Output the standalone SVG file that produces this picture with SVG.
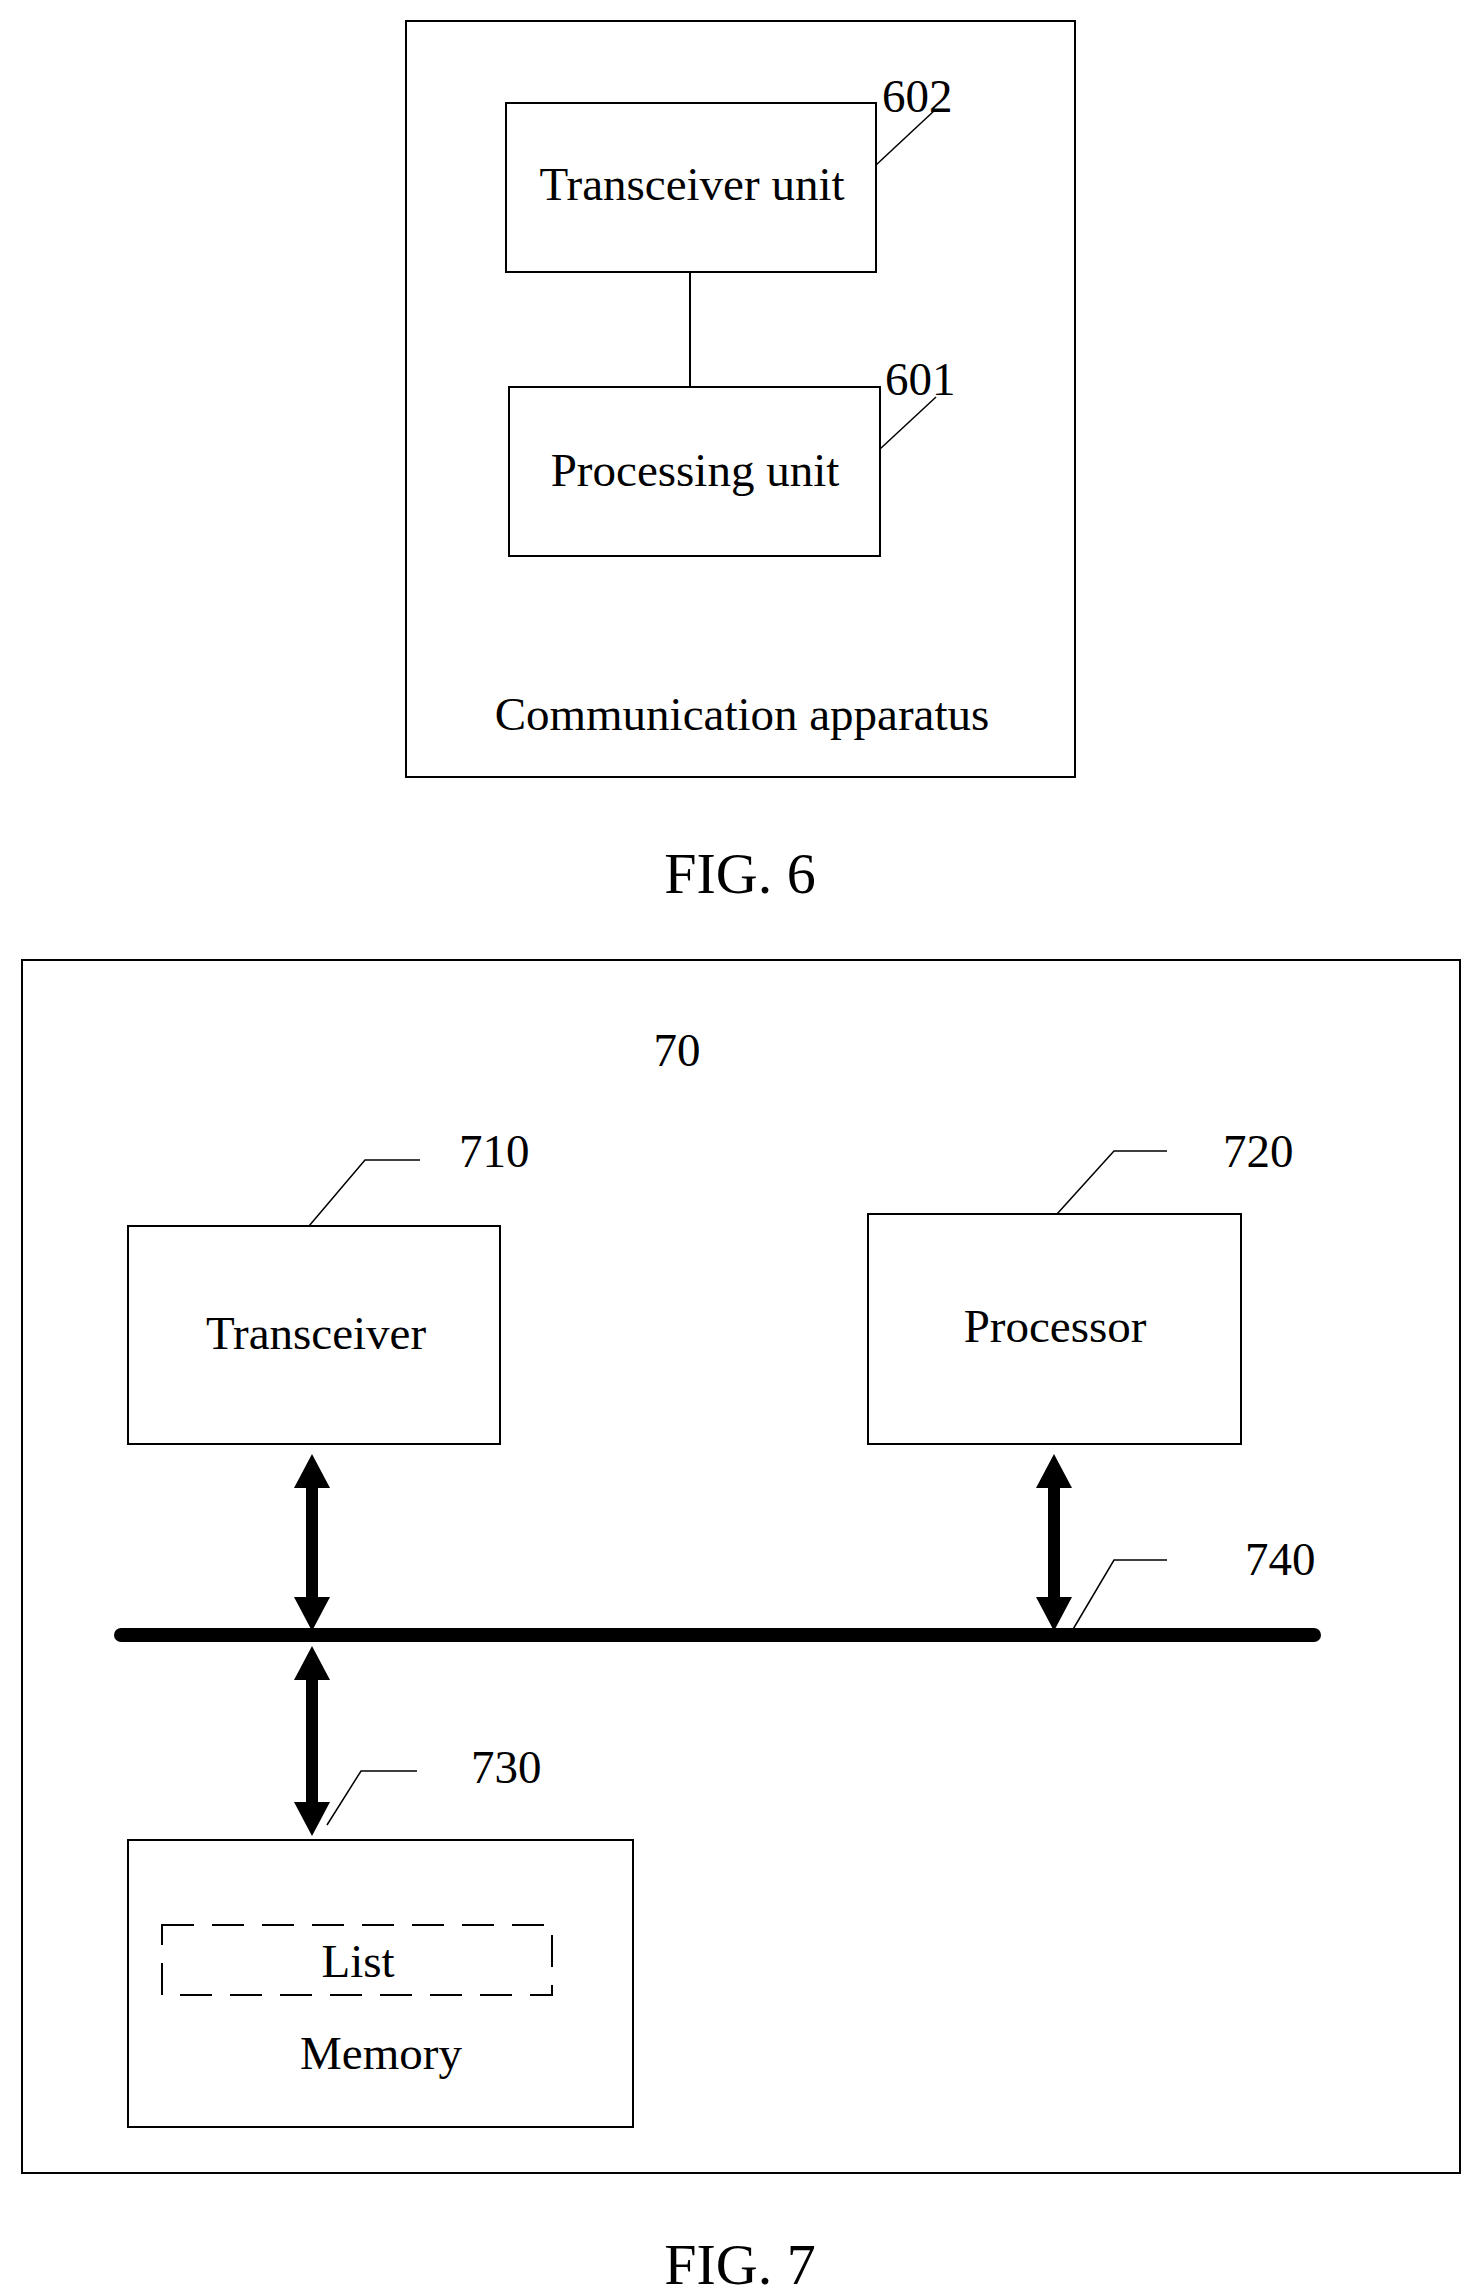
<svg xmlns="http://www.w3.org/2000/svg" width="1472" height="2295" viewBox="0 0 1472 2295">
<style>
.b{fill:none;stroke:#000;stroke-width:2}
.t{font-family:"Liberation Serif",serif;font-size:47px;fill:#000}
.c{text-anchor:middle}
.l{fill:none;stroke:#000;stroke-width:1.5}
.f{font-family:"Liberation Serif",serif;font-size:58px;text-anchor:middle}
</style>
<rect width="1472" height="2295" fill="#fff"/>
<g id="fig6">
<rect class="b" x="406" y="21" width="669" height="756"/>
<text class="t c" x="742" y="730">Communication apparatus</text>
</g>
<g id="n602"><rect class="b" x="506" y="103" width="370" height="169"/><text class="t c" x="692" y="200">Transceiver unit</text><text class="t" x="882" y="112">602</text></g>
<g id="n601"><rect class="b" x="509" y="387" width="371" height="169"/><text class="t c" x="695" y="486">Processing unit</text><text class="t" x="885" y="395">601</text></g>
<text class="f" x="740" y="893">FIG. 6</text>
<g id="fig7"><rect class="b" x="22" y="960" width="1438" height="1213"/><text class="t c" x="677" y="1066">70</text></g>
<g id="n710"><rect class="b" x="128" y="1226" width="372" height="218"/><text class="t c" x="316" y="1349">Transceiver</text><text class="t" x="459" y="1167">710</text></g>
<g id="n720"><rect class="b" x="868" y="1214" width="373" height="230"/><text class="t c" x="1055" y="1342">Processor</text><text class="t" x="1223" y="1167">720</text></g>
<g id="n730"><rect class="b" x="128" y="1840" width="505" height="287"/><rect x="162" y="1925" width="390" height="70" fill="none" stroke="#000" stroke-width="2" stroke-dasharray="32,18"/><text class="t c" x="358" y="1977">List</text><text class="t c" x="381" y="2069">Memory</text><text class="t" x="471" y="1783">730</text></g>
<g id="n740"><line x1="121" y1="1635" x2="1314" y2="1635" stroke="#000" stroke-width="14" stroke-linecap="round"/><text class="t" x="1245" y="1575">740</text></g>
<g id="connectors">
<line class="b" x1="690" y1="272" x2="690" y2="387"/>
<polyline class="l" points="876,165 935,110"/>
<polyline class="l" points="880,449 936,397"/>
<polyline class="l" points="309,1226 365,1160 420,1160"/>
<polyline class="l" points="1057,1214 1114,1151 1167,1151"/>
<polyline class="l" points="1072,1631 1114,1560 1167,1560"/>
<polyline class="l" points="327,1825 361,1771 417,1771"/>
<polygon points="312,1454 330,1488 318,1488 318,1597 330,1597 312,1631 294,1597 306,1597 306,1488 294,1488"/>
<polygon points="1054,1454 1072,1488 1060,1488 1060,1597 1072,1597 1054,1631 1036,1597 1048,1597 1048,1488 1036,1488"/>
<polygon points="312,1646 330,1680 318,1680 318,1802 330,1802 312,1836 294,1802 306,1802 306,1680 294,1680"/>
</g>
<text class="f" x="740" y="2284">FIG. 7</text>
</svg>
